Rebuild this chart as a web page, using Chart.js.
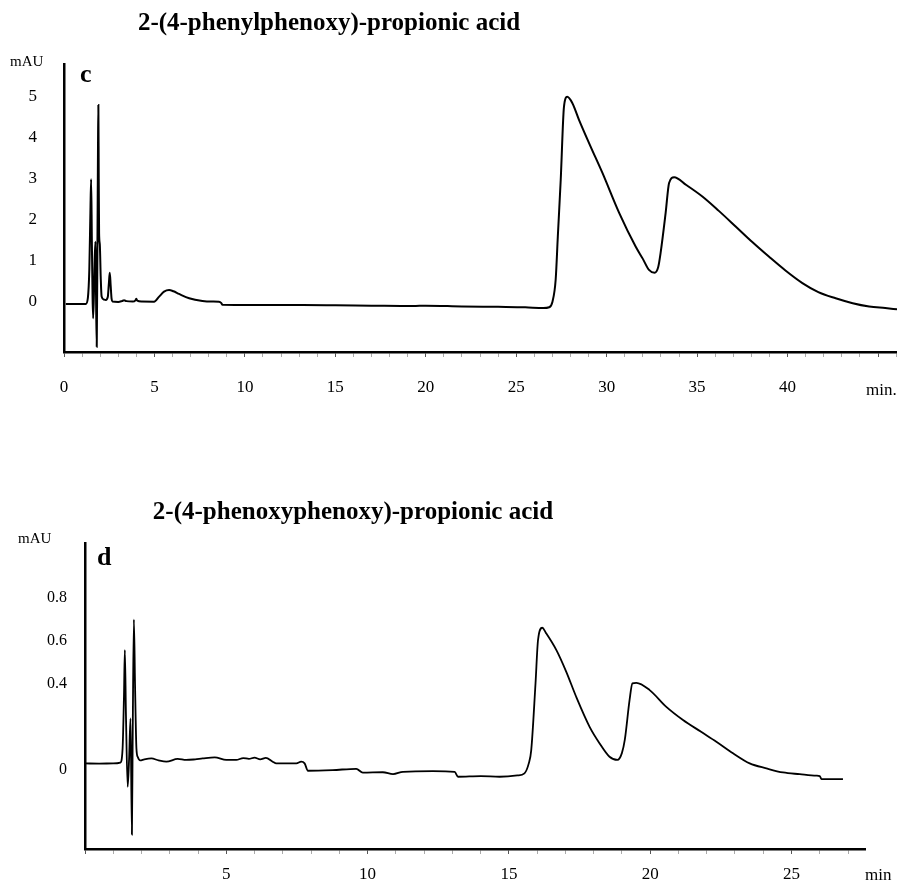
<!DOCTYPE html>
<html>
<head>
<meta charset="utf-8">
<script src="https://cdn.jsdelivr.net/npm/chart.js@4/dist/chart.umd.min.js"></script>
<style>
  html, body { margin: 0; padding: 0; background: #fff; }
  body { width: 897px; height: 885px; position: relative; overflow: hidden; }
  canvas { position: absolute; left: 0; }
  #top { top: 0; }
  #bottom { top: 440px; }
</style>
</head>
<body>
<canvas id="top" width="897" height="420"></canvas>
<canvas id="bottom" width="897" height="445"></canvas>
<script>
// ---------- Data ----------
// Chromatogram c: 2-(4-phenylphenoxy)-propionic acid
const topTitle = "2-(4-phenylphenoxy)-propionic acid";
const topTimes = [
  0.1, 1.0, 1.2, 1.32, 1.40, 1.46, 1.50, 1.54, 1.58, 1.61, 1.66, 1.70, 1.74, 1.77, 1.81,
  1.85, 1.88, 1.90, 1.92, 1.94, 1.98, 2.03, 2.08, 2.2, 2.31, 2.42, 2.48, 2.53, 2.58, 2.63,
  2.68, 3.0, 3.2, 3.32, 3.45, 3.8, 3.95, 4.0, 4.05, 4.3, 4.98, 5.26, 5.53, 5.81, 6.05,
  6.36, 6.92, 7.65, 8.2, 8.57, 8.7, 8.76, 9.47, 11.0, 13.18, 15.0, 17.0, 19.3, 20.0, 22.0,
  24.0, 25.5, 26.5, 26.82, 27.0, 27.18, 27.3, 27.46, 27.64, 27.82, 28.1, 28.47, 29.1, 29.76, 30.69,
  31.6, 32.0, 32.34, 32.65, 32.85, 32.98, 33.26, 33.45, 33.73, 34.4, 35.29, 36.2, 37.13, 38.05, 38.98,
  39.9, 40.82, 41.7, 42.66, 43.6, 44.51, 45.4, 46.05
];
const topSignal = [
  -0.05, -0.05, -0.05, 0.1, 0.8, 2.2, 2.99, 1.5, 0.1, -0.40, 0.3, 1.1, 1.47, 0.2, -1.09,
  1.5, 3.8, 4.80, 3.0, 1.68, 1.4, 0.6, 0.13, 0.06, 0.05, 0.12, 0.45, 0.71, 0.4, 0.08,
  0.01, 0.0, 0.02, 0.04, 0.02, 0.01, 0.04, 0.08, 0.03, 0.01, 0.007, 0.13, 0.25, 0.29, 0.26,
  0.195, 0.09, 0.024, 0.01, 0.007, -0.03, -0.07, -0.073, -0.075, -0.073, -0.08, -0.09, -0.1, -0.09, -0.11,
  -0.12, -0.13, -0.15, -0.13, 0.0, 0.54, 1.6, 2.98, 4.76, 5.0, 4.85, 4.44, 3.8, 3.15, 2.17,
  1.35, 1.05, 0.78, 0.71, 0.85, 1.19, 2.17, 2.9, 3.04, 2.85, 2.57, 2.22, 1.84, 1.46, 1.1,
  0.76, 0.46, 0.24, 0.09, -0.03, -0.11, -0.15, -0.18
];
const topYTicks = [0, 1, 2, 3, 4, 5];
const topXTicks = [0,1,2,3,4,5,6,7,8,9,10,11,12,13,14,15,16,17,18,19,20,21,22,23,24,25,26,27,28,29,30,31,32,33,34,35,36,37,38,39,40,41,42,43,44,45,46];
const topXLabelled = [0, 5, 10, 15, 20, 25, 30, 35, 40];

// Chromatogram d: 2-(4-phenoxyphenoxy)-propionic acid
const bottomTitle = "2-(4-phenoxyphenoxy)-propionic acid";
const bottomTimes = [
  0.0, 0.5, 1.0, 1.25, 1.33, 1.38, 1.41, 1.45, 1.51, 1.56, 1.61, 1.66, 1.69, 1.73, 1.77,
  1.82, 1.87, 1.95, 2.1, 2.35, 2.6, 2.88, 3.28, 3.58, 3.9, 4.16, 4.59, 5.0, 5.35, 5.6,
  5.8, 6.0, 6.2, 6.4, 6.64, 6.77, 7.48, 7.65, 7.77, 7.89, 8.76, 9.6, 9.83, 10.54, 10.9,
  11.25, 12.31, 13.08, 13.2, 14.0, 14.67, 15.3, 15.55, 15.7, 15.79, 15.94, 16.03, 16.18, 16.3, 16.68,
  17.03, 17.38, 17.86, 18.21, 18.56, 18.84, 19.0, 19.1, 19.27, 19.37, 19.51, 19.98, 20.57, 21.16, 21.8,
  22.34, 22.93, 23.52, 24.11, 24.7, 25.29, 25.88, 26.0, 26.06, 26.5, 26.82
];
const bottomSignal = [
  0.031, 0.030, 0.031, 0.035, 0.1, 0.35, 0.558, 0.25, -0.078, 0.05, 0.24, -0.30, 0.2, 0.70, 0.4,
  0.1, 0.06, 0.045, 0.05, 0.054, 0.045, 0.039, 0.052, 0.047, 0.05, 0.054, 0.059, 0.047, 0.047, 0.056,
  0.052, 0.058, 0.05, 0.057, 0.039, 0.031, 0.031, 0.039, 0.031, -0.003, 0.0, 0.006, -0.012, -0.01, -0.019,
  -0.008, -0.005, -0.008, -0.031, -0.028, -0.031, -0.025, -0.015, 0.03, 0.093, 0.40, 0.605, 0.662, 0.64, 0.558,
  0.457, 0.341, 0.20, 0.124, 0.062, 0.047, 0.08, 0.14, 0.326, 0.403, 0.406, 0.372, 0.294, 0.233, 0.178,
  0.132, 0.078, 0.031, 0.008, -0.011, -0.019, -0.026, -0.028, -0.042, -0.042, -0.042
];
const bottomYTicks = [0, 0.4, 0.6, 0.8];
const bottomXTicks = [0,1,2,3,4,5,6,7,8,9,10,11,12,13,14,15,16,17,18,19,20,21,22,23,24,25,26,27];
const bottomXLabelled = [5, 10, 15, 20, 25];

// ---------- Rendering ----------
const SERIF = '"Liberation Serif", "Times New Roman", serif';
Chart.defaults.font.family = SERIF;
Chart.defaults.color = '#000';

const textPlugin = {
  id: 'chartText',
  afterDraw(chart, args, opts) {
    const ctx = chart.ctx;
    (opts.items || []).forEach(it => {
      ctx.save();
      ctx.font = it.font;
      ctx.fillStyle = '#000';
      ctx.textAlign = it.align || 'left';
      ctx.textBaseline = 'alphabetic';
      ctx.fillText(it.text, it.x, it.y);
      ctx.restore();
    });
  }
};

function pts(xs, ys) { return xs.map((x, i) => ({ x: x, y: ys[i] })); }

function makeChart(id, cfg) {
  return new Chart(document.getElementById(id), {
    type: 'line',
    data: {
      datasets: [{
        data: pts(cfg.times, cfg.signal),
        borderColor: '#000',
        borderWidth: cfg.lineWidth,
        pointRadius: 0,
        fill: false,
        cubicInterpolationMode: 'monotone'
      }]
    },
    options: {
      responsive: false,
      animation: false,
      devicePixelRatio: 1,
      events: [],
      layout: { padding: cfg.padding },
      plugins: {
        legend: { display: false },
        tooltip: { enabled: false },
        title: { display: false },
        chartText: { items: cfg.texts }
      },
      scales: {
        x: {
          type: 'linear',
          min: cfg.xMin, max: cfg.xMax,
          afterBuildTicks: s => { s.ticks = cfg.xTicks.map(v => ({ value: v })); },
          afterFit: s => { s.height = cfg.xAxisHeight; s.paddingLeft = 0; s.paddingRight = 0; },
          ticks: {
            autoSkip: false, maxRotation: 0, minRotation: 0,
            padding: cfg.xPad,
            font: { size: cfg.xFont },
            color: '#000',
            callback: v => (cfg.xLabelled.indexOf(v) >= 0 ? String(v) : '')
          },
          grid: {
            drawOnChartArea: false, drawTicks: true, tickLength: 5,
            color: c => (c.tick && c.tick.value % 5 === 0 ? '#555' : '#aaa'),
            lineWidth: 1
          },
          border: { display: true, color: '#000', width: 2.5 }
        },
        y: {
          type: 'linear',
          min: cfg.yMin, max: cfg.yMax,
          afterBuildTicks: s => { s.ticks = cfg.yTicks.map(v => ({ value: v })); },
          afterFit: s => { s.width = cfg.yAxisWidth; s.paddingTop = 0; s.paddingBottom = 0; },
          ticks: { padding: cfg.yPad, font: { size: cfg.yFont }, color: '#000' },
          grid: { drawOnChartArea: false, drawTicks: false },
          border: { display: true, color: '#000', width: 2.5 }
        }
      }
    },
    plugins: [textPlugin]
  });
}

makeChart('top', {
  times: topTimes, signal: topSignal, lineWidth: 2,
  xMin: 0, xMax: 46.05, yMin: -1.22, yMax: 5.80,
  xTicks: topXTicks, xLabelled: topXLabelled, yTicks: topYTicks,
  padding: { top: 64, left: 0, right: 0, bottom: 0 },
  xAxisHeight: 68, yAxisWidth: 64, xPad: 20, yPad: 27, xFont: 17, yFont: 17,
  texts: [
    { text: topTitle, x: 329, y: 30, font: 'bold 25px ' + SERIF, align: 'center' },
    { text: 'mAU', x: 10, y: 66, font: '15px ' + SERIF },
    { text: 'c', x: 80, y: 82, font: 'bold 26px ' + SERIF },
    { text: 'min.', x: 866, y: 395, font: '17px ' + SERIF }
  ]
});

makeChart('bottom', {
  times: bottomTimes, signal: bottomSignal, lineWidth: 1.8,
  xMin: 0, xMax: 27.6, yMin: -0.367, yMax: 1.056,
  xTicks: bottomXTicks, xLabelled: bottomXLabelled, yTicks: bottomYTicks,
  padding: { top: 103, left: 0, right: 32, bottom: 0 },
  xAxisHeight: 36, yAxisWidth: 85, xPad: 10, yPad: 18, xFont: 17, yFont: 16,
  texts: [
    { text: bottomTitle, x: 353, y: 79, font: 'bold 25px ' + SERIF, align: 'center' },
    { text: 'mAU', x: 18, y: 103, font: '15px ' + SERIF },
    { text: 'd', x: 97, y: 125, font: 'bold 26px ' + SERIF },
    { text: 'min', x: 865, y: 440, font: '17px ' + SERIF }
  ]
});
</script>
</body>
</html>
